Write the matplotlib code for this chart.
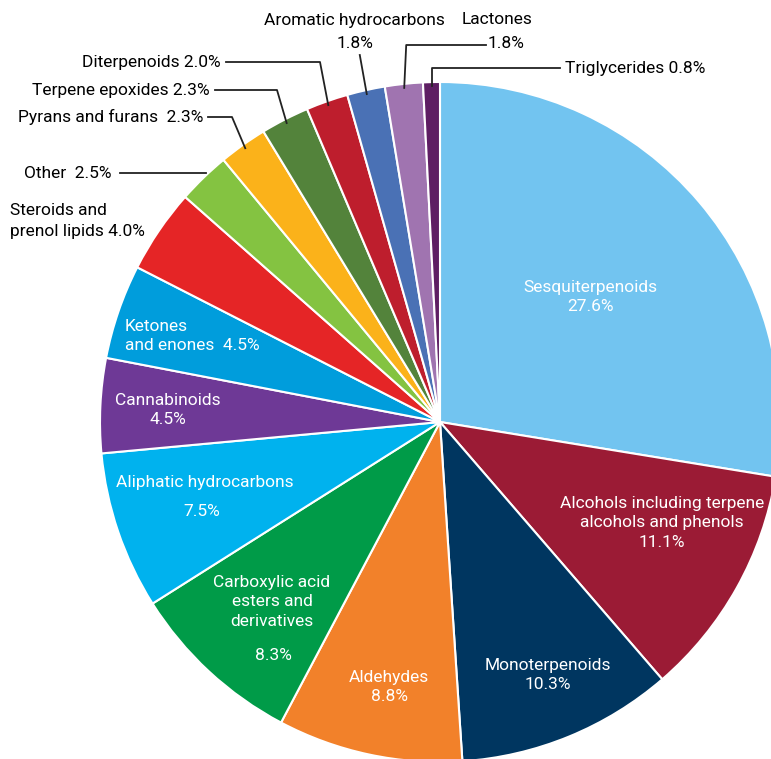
import matplotlib.pyplot as plt
import numpy as np

plt.rcParams['font.family'] = ['Roboto', 'DejaVu Sans']

categories = ['Sesquiterpenoids', 'Alcohols including terpene alcohols and phenols',
              'Monoterpenoids', 'Aldehydes', 'Carboxylic acid esters and derivatives',
              'Aliphatic hydrocarbons', 'Cannabinoids', 'Ketones and enones',
              'Steroids and prenol lipids', 'Other', 'Pyrans and furans',
              'Terpene epoxides', 'Diterpenoids', 'Aromatic hydrocarbons',
              'Lactones', 'Triglycerides']
values = [27.6, 11.1, 10.3, 8.8, 8.3, 7.5, 4.5, 4.5, 4.0, 2.5, 2.3, 2.3, 2.0, 1.8, 1.8, 0.8]
colors = ['#72C4F0', '#9B1B35', '#003660', '#F2812A', '#009B48', '#00B2EE',
          '#6E3996', '#009DDC', '#E52526', '#84C341', '#FBB21A', '#53833B',
          '#BE1E2D', '#4A71B5', '#A074B0', '#5E1E63']

W, H = 771, 759
fig = plt.figure(figsize=(W / 100, H / 100), dpi=100)
ax = fig.add_axes([0, 0, 1, 1])

def Y(y):
    return H - y

cx, cy, R = 440, 422, 340
wedges, _ = ax.pie(values, colors=colors, startangle=90, counterclock=False,
                   radius=R, center=(cx, Y(cy)), frame=True,
                   wedgeprops=dict(edgecolor='white', linewidth=1.5))
ax.set_xlim(0, W)
ax.set_ylim(0, H)
ax.axis('off')

def edge_point(i, r=R - 4):
    a = np.deg2rad((wedges[i].theta1 + wedges[i].theta2) / 2)
    return cx + r * np.cos(a), cy - r * np.sin(a)

# labels inside the slices
fi = 12.5
inside = [
    (0, 'Sesquiterpenoids\n27.6%', 590, 297, 'center'),
    (1, 'Alcohols including terpene\nalcohols and phenols\n11.1%', 662, 523, 'center'),
    (2, 'Monoterpenoids\n10.3%', 548, 675, 'center'),
    (3, 'Aldehydes\n8.8%', 389, 687, 'center'),
    (4, 'Carboxylic acid\nesters and\nderivatives', 272, 602, 'center'),
    (5, 'Aliphatic hydrocarbons', 205, 483, 'center'),
    (6, 'Cannabinoids\n4.5%', 168, 410, 'center'),
    (7, 'Ketones\nand enones  4.5%', 125, 336, 'left'),
]
for i, txt, x, y, ha in inside:
    ax.text(x, Y(y), txt, color='white', fontsize=fi, ha=ha, va='center',
            linespacing=1.4, multialignment='center' if ha == 'center' else 'left')
ax.text(273, Y(655), '8.3%', color='white', fontsize=fi, ha='center', va='center')
ax.text(202, Y(511), '7.5%', color='white', fontsize=fi, ha='center', va='center')

# outside labels with leader lines
fs = 12.5
lw = 1.3
# Triglycerides
px, py = edge_point(15)
ax.plot([px, px, 560], [Y(py), Y(68), Y(68)], color='#222222', lw=lw)
ax.text(565, Y(68), 'Triglycerides 0.8%', fontsize=fs, ha='left', va='center')
# Lactones
px, py = edge_point(14)
ax.plot([px, px + 2, 486], [Y(py), Y(45), Y(45)], color='#222222', lw=lw)
ax.text(497, Y(20), 'Lactones', fontsize=fs, ha='center', va='center')
ax.text(506, Y(43), '1.8%', fontsize=fs, ha='center', va='center')
# Aromatic hydrocarbons
px, py = edge_point(13)
ax.plot([px, px - 7], [Y(py), Y(55)], color='#222222', lw=lw)
ax.text(354, Y(20), 'Aromatic hydrocarbons', fontsize=fs, ha='center', va='center')
ax.text(355, Y(43), '1.8%', fontsize=fs, ha='center', va='center')
# left side callouts
left = [
    (12, 'Diterpenoids 2.0%', 221, 62, 320),
    (11, 'Terpene epoxides 2.3%', 210, 90, 277),
    (10, 'Pyrans and furans  2.3%', 203, 117, 232),
]
for i, txt, tx, ty, ex in left:
    px, py = edge_point(i)
    ax.plot([tx + 5, ex, px], [Y(ty), Y(ty), Y(py)], color='#222222', lw=lw)
    ax.text(tx, Y(ty), txt, fontsize=fs, ha='right', va='center')
px, py = edge_point(9)
ax.plot([120, px], [Y(173), Y(173)], color='#222222', lw=lw)
ax.text(112, Y(173), 'Other  2.5%', fontsize=fs, ha='right', va='center')
ax.text(10, Y(221), 'Steroids and\nprenol lipids 4.0%', fontsize=fs, ha='left',
        va='center', linespacing=1.45)

fig.savefig('out.png', dpi=100)
